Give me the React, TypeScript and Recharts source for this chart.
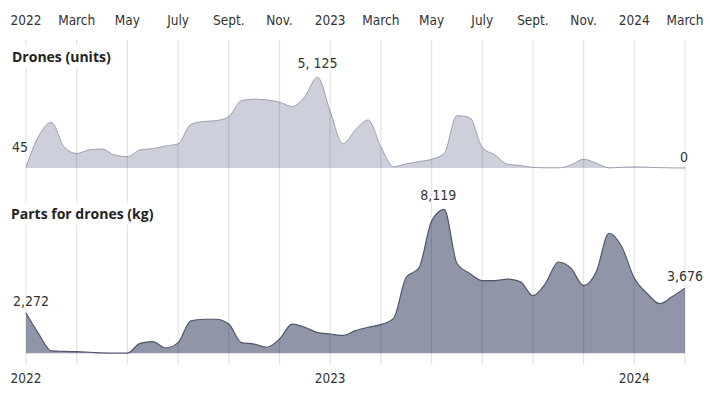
import { ComposedChart, Area, XAxis, YAxis, ReferenceLine, LabelList } from "recharts";

// axis labels
const monthTicks = ["2022", "March", "May", "July", "Sept.", "Nov.", "2023", "March", "May", "July", "Sept.", "Nov.", "2024", "March"];
const yearTicks = ["2022", "2023", "2024"];

// half-month steps, Jan 2022 -> Mar 2024
const drones = [
  45, 1800, 2570, 1200, 820, 1020, 1070, 730, 640, 1020, 1090, 1240, 1360,
  2450, 2620, 2670, 2900, 3800, 3880, 3840, 3710, 3470, 4030, 5125, 3200,
  1360, 2150, 2710, 1200, 75, 230, 360, 490, 830, 2950, 2850, 1170, 740,
  210, 140, 30, 10, 10, 170, 490, 270, 10, 40, 60, 45, 20, 5, 0,
];
const parts = [
  2272, 1100, 140, 110, 90, 60, 20, 5, 5, 560, 660, 300, 600,
  1830, 1920, 1920, 1650, 600, 520, 340, 800, 1650, 1470, 1170, 1090,
  1010, 1280, 1470, 1620, 1970, 4290, 4800, 7450, 8119, 5080, 4510, 4100, 4100,
  4180, 4040, 3250, 3950, 5150, 4800, 3820, 4600, 6770, 6020, 4230, 3380, 2800, 3200, 3676,
];

const data = drones.map((d, i) => ({ t: i, drones: d, parts: parts[i] }));
const monthIdx = monthTicks.map((_, k) => k * 4);
const yearIdx = yearTicks.map((_, k) => k * 24);

const narrow = "'Liberation Sans Narrow', 'Arial Narrow', 'DejaVu Sans Condensed', sans-serif";

type Spec = { dx: number; dy: number; anchor: "start" | "middle" | "end" };
const droneLabels: Record<number, Spec> = {
  0: { dx: 2, dy: -20, anchor: "end" },
  23: { dx: 0, dy: -14, anchor: "middle" },
  52: { dx: -1, dy: -11, anchor: "middle" },
};
const partLabels: Record<number, Spec> = {
  0: { dx: -13, dy: -12, anchor: "start" },
  33: { dx: -6, dy: -14, anchor: "middle" },
  52: { dx: 0, dy: -12, anchor: "middle" },
};

const makeLabel = (spec: Record<number, Spec>, fmt: (v: number) => string) => (props: any) => {
  const { index, value } = props;
  const s = spec[index];
  if (!s) return null;
  const x = props.x ?? props.viewBox?.x;
  const y = props.y ?? props.viewBox?.y;
  return (
    <text
      x={x + s.dx}
      y={y + s.dy}
      textAnchor={s.anchor}
      dominantBaseline="central"
      fontSize={14}
      fontFamily={narrow}
      fill="#333"
      stroke="#fff"
      strokeWidth={3}
      paintOrder="stroke"
    >
      {fmt(value)}
    </text>
  );
};

const titleStyle: React.CSSProperties = {
  position: "absolute",
  background: "#fff",
  fontFamily: "'Open Sans', sans-serif",
  fontWeight: 700,
  fontSize: 14,
  color: "#222",
  lineHeight: "22px",
  paddingRight: 2,
};

export default function App() {
  return (
    <div style={{ position: "absolute", left: 0, top: 0, width: 710, height: 394, background: "#fff" }}>
      <ComposedChart width={710} height={394} data={data} margin={{ top: 0, right: 25, bottom: 0, left: 26 }}>
        <XAxis
          xAxisId="m"
          dataKey="t"
          orientation="top"
          ticks={monthIdx}
          interval={0}
          tickFormatter={(t) => monthTicks[t / 4]}
          axisLine={false}
          tickLine={false}
          tickSize={0}
          tickMargin={15}
          height={40}
          tick={{ fontSize: 13.5, fill: "#333", fontFamily: narrow }}
        />
        <XAxis
          xAxisId="y"
          dataKey="t"
          orientation="bottom"
          ticks={yearIdx}
          interval={0}
          tickFormatter={(t) => yearTicks[t / 24]}
          axisLine={false}
          tickLine={false}
          tickSize={0}
          tickMargin={8}
          height={29}
          tick={{ fontSize: 13.5, fill: "#333", fontFamily: narrow }}
        />
        <YAxis yAxisId="top" hide domain={[-11111, 7219]} allowDataOverflow />
        <YAxis yAxisId="bot" hide domain={[-660, 17670]} allowDataOverflow />
        <Area
          xAxisId="m"
          yAxisId="top"
          type="monotone"
          dataKey="drones"
          baseValue={0}
          fill="#cdd0db"
          fillOpacity={1}
          stroke="#9a9eaf"
          strokeWidth={1}
          dot={false}
          activeDot={false}
          isAnimationActive={false}
        >
          <LabelList dataKey="drones" content={makeLabel(droneLabels, (v) => v.toLocaleString("en-US").replace(",", ", "))} />
        </Area>
        <Area
          xAxisId="m"
          yAxisId="bot"
          type="monotone"
          dataKey="parts"
          baseValue={0}
          fill="#9195a8"
          fillOpacity={1}
          stroke="#51566a"
          strokeWidth={1.2}
          dot={false}
          activeDot={false}
          isAnimationActive={false}
        >
          <LabelList dataKey="parts" content={makeLabel(partLabels, (v) => v.toLocaleString("en-US"))} />
        </Area>
        {monthIdx.map((t) => (
          <ReferenceLine key={t} xAxisId="m" yAxisId="top" x={t} stroke="rgba(0,0,0,0.1)" strokeWidth={1.3} />
        ))}
      </ComposedChart>
      <div style={{ ...titleStyle, left: 12, top: 46 }}>Drones (units)</div>
      <div style={{ ...titleStyle, left: 11, top: 203 }}>Parts for drones (kg)</div>
    </div>
  );
}
